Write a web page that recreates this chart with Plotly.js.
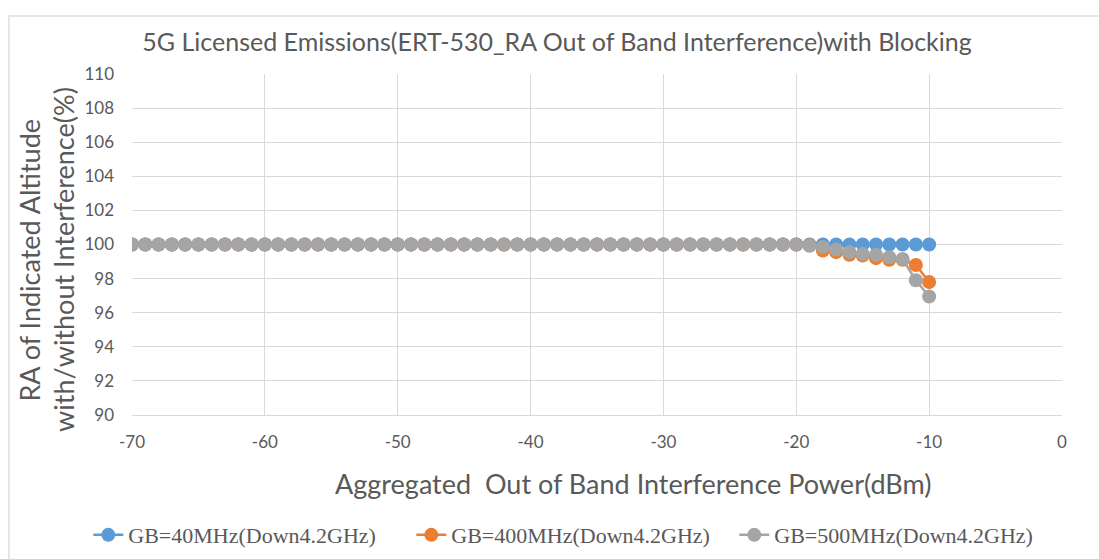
<!DOCTYPE html>
<html>
<head>
<meta charset="utf-8">
<script src="https://cdn.plot.ly/plotly-3.0.1.min.js"></script>
<style>
html,body{margin:0;padding:0;background:#fff;}
#frame{position:absolute;left:8px;top:15px;width:1200px;height:600px;border-top:2px solid #E6E6E6;border-left:2px solid #E6E6E6;}
#chart{position:absolute;left:0;top:0;width:1099px;height:559px;}
</style>
</head>
<body>
<div id="frame"></div>
<div id="chart"></div>
<script>
var powerDbm = [-70,-69,-68,-67,-66,-65,-64,-63,-62,-61,-60,-59,-58,-57,-56,-55,-54,-53,-52,-51,-50,-49,-48,-47,-46,-45,-44,-43,-42,-41,-40,-39,-38,-37,-36,-35,-34,-33,-32,-31,-30,-29,-28,-27,-26,-25,-24,-23,-22,-21,-20,-19,-18,-17,-16,-15,-14,-13,-12,-11,-10];

var gb40 = [100,100,100,100,100,100,100,100,100,100,100,100,100,100,100,100,100,100,100,100,100,100,100,100,100,100,100,100,100,100,100,100,100,100,100,100,100,100,100,100,100,100,100,100,100,100,100,100,100,100,100,100,100,100,100,100,100,100,100,100,100];

var gb400 = [100,100,100,100,100,100,100,100,100,100,100,100,100,100,100,100,100,100,100,100,100,100,100,100,100,100,100,100,100,100,100,100,100,100,100,100,100,100,100,100,100,100,100,100,100,100,100,100,100,100,100,99.95,99.65,99.55,99.4,99.35,99.2,99.1,99.1,98.8,97.8];

var gb500 = [100,100,100,100,100,100,100,100,100,100,100,100,100,100,100,100,100,100,100,100,100,100,100,100,100,100,100,100,100,100,100,100,100,100,100,100,100,100,100,100,100,100,100,100,100,100,100,100,100,100,100,99.93,99.85,99.7,99.55,99.45,99.4,99.25,99.15,97.9,96.95];

var xTickVals = [-70,-60,-50,-40,-30,-20,-10,0];
var xTickText = ['-70','-60','-50','-40','-30','-20','-10','0'];

var seriesNames = ['GB=40MHz(Down4.2GHz)','GB=400MHz(Down4.2GHz)','GB=500MHz(Down4.2GHz)'];
var seriesColors = ['#5B9BD5','#ED7D31','#A5A5A5'];
var seriesData = [gb40, gb400, gb500];

var traces = seriesData.map(function(ys, i){
  return {
    x: powerDbm, y: ys, type: 'scatter', mode: 'lines+markers',
    name: seriesNames[i],
    line: {color: seriesColors[i], width: 2.5},
    marker: {color: seriesColors[i], size: 14, symbol: 'circle'}
  };
});

var txt = '#595959';
var layout = {
  width: 1099, height: 559,
  margin: {l: 132, r: 37, t: 74, b: 144, autoexpand: false},
  paper_bgcolor: 'rgba(0,0,0,0)',
  plot_bgcolor: '#ffffff',
  font: {family: 'Lato, sans-serif', color: txt},
  title: {text: '5G Licensed Emissions(ERT-530_RA Out of Band Interference)with Blocking',
          font: {family: 'Lato, sans-serif', size: 25, color: txt},
          x: 0.457, xanchor: 'center', y: 0.925, yanchor: 'middle', xref: 'paper'},
  xaxis: {range: [-70, 0], tickmode: 'array', tickvals: xTickVals, ticktext: xTickText,
          showgrid: true, gridcolor: '#D9D9D9', gridwidth: 1, automargin: false,
          zeroline: false, showline: true, linecolor: '#D9D9D9', linewidth: 1,
          ticks: '', ticklabelstandoff: 12, tickfont: {size: 17, color: txt}, fixedrange: true,
          title: {text: ''}},
  yaxis: {range: [90, 110], dtick: 2, tick0: 90, showgrid: true, gridcolor: '#D9D9D9', gridwidth: 1,
          zeroline: false, showline: false, ticks: '', ticklabelstandoff: 17, automargin: false,
          tickfont: {size: 17, color: txt}, fixedrange: true, title: {text: ''}},
  showlegend: true,
  legend: {orientation: 'h', xref: 'paper', x: -0.047, xanchor: 'left',
           yref: 'paper', y: -0.352, yanchor: 'middle',
           font: {family: '"Liberation Serif", "Times New Roman", serif', size: 22, color: txt},
           itemwidth: 30, traceorder: 'normal', entrywidth: 278, entrywidthmode: 'pixels'},
  annotations: [
    {text: 'Aggregated  Out of Band Interference Power(dBm)', xref: 'paper', yref: 'paper',
     x: 0.539, y: -0.2, xanchor: 'center', yanchor: 'middle', showarrow: false,
     font: {size: 27, color: txt}},
    {text: 'RA of Indicated Altitude', xref: 'paper', yref: 'paper',
     x: -0.110, xanchor: 'center', y: 0.455, yanchor: 'middle', textangle: -90, showarrow: false,
     font: {size: 27, color: txt}},
    {text: 'with/without Interference(%)', xref: 'paper', yref: 'paper',
     x: -0.073, xanchor: 'center', y: 0.455, yanchor: 'middle', textangle: -90, showarrow: false,
     font: {size: 27, color: txt}}
  ]
};

Plotly.newPlot('chart', traces, layout, {displayModeBar: false, staticPlot: true});
</script>
</body>
</html>
